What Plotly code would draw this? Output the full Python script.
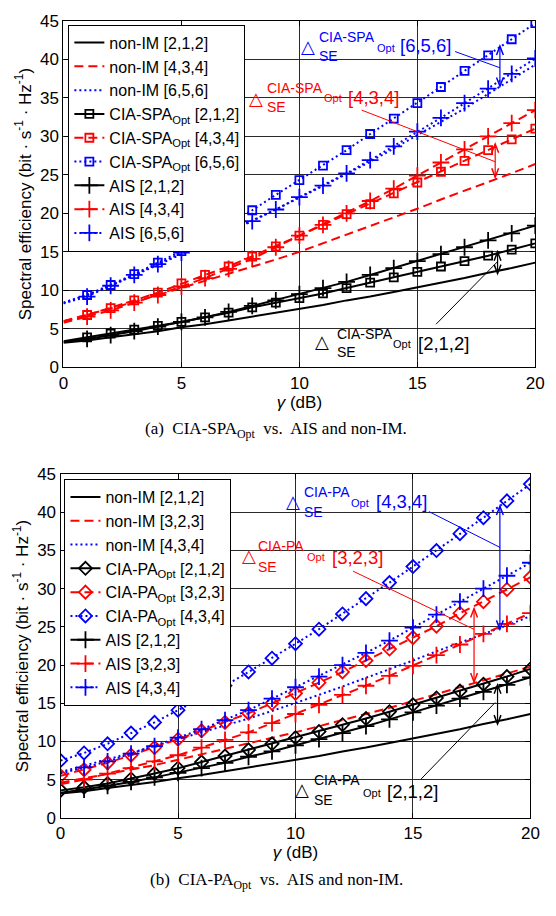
import plotly.graph_objects as go

# ---------------- data ----------------
gamma = list(range(21))
xticks = [0, 5, 10, 15, 20]
yticks = [0, 5, 10, 15, 20, 25, 30, 35, 40, 45]

# (a) CIA-SPA_Opt vs AIS and non-IM
a_nonim_212 = [3.2, 3.5, 3.9, 4.3, 4.7, 5.2, 5.6, 6.1, 6.6, 7.1, 7.6, 8.1, 8.7, 9.2, 9.8, 10.4, 11.0, 11.6, 12.3, 12.9, 13.6]
a_nonim_434 = [6.0, 6.8, 7.6, 8.5, 9.4, 10.3, 11.2, 12.1, 13.0, 14.0, 15.0, 16.1, 17.2, 18.3, 19.5, 20.6, 21.8, 22.9, 24.1, 25.2, 26.4]
a_nonim_656 = [8.4, 9.4, 10.6, 11.9, 13.3, 14.7, 16.1, 17.6, 19.0, 20.5, 22.0, 23.5, 25.1, 26.7, 28.4, 30.1, 31.8, 33.6, 35.5, 37.4, 39.3]
a_cia_212 = [3.4, 3.9, 4.4, 4.9, 5.4, 5.9, 6.5, 7.1, 7.8, 8.4, 9.0, 9.6, 10.3, 11.0, 11.7, 12.4, 13.1, 13.8, 14.5, 15.3, 16.1]
a_cia_434 = [6.0, 6.8, 7.7, 8.7, 9.7, 10.9, 12.0, 13.1, 14.4, 15.7, 17.1, 18.5, 19.9, 21.2, 22.6, 24.0, 25.4, 26.8, 28.2, 29.6, 31.0]
a_cia_656 = [8.4, 9.4, 10.7, 12.1, 13.6, 15.1, 16.8, 18.6, 20.4, 22.4, 24.3, 26.2, 28.2, 30.3, 32.3, 34.3, 36.4, 38.5, 40.5, 42.6, 44.7]
a_ais_212 = [3.3, 3.7, 4.2, 4.7, 5.3, 5.9, 6.5, 7.2, 8.0, 8.7, 9.5, 10.3, 11.1, 12.0, 12.9, 13.8, 14.7, 15.6, 16.5, 17.4, 18.4]
a_ais_434 = [5.8, 6.6, 7.4, 8.4, 9.4, 10.5, 11.6, 12.8, 14.1, 15.6, 17.1, 18.5, 20.0, 21.6, 23.2, 24.9, 26.6, 28.3, 30.0, 31.7, 33.4]
a_ais_656 = [8.3, 9.2, 10.6, 12.0, 13.4, 14.9, 16.3, 17.6, 19.0, 20.5, 22.1, 23.6, 25.2, 26.9, 28.7, 30.6, 32.4, 34.3, 36.2, 38.1, 40.1]

# (b) CIA-PA_Opt vs AIS and non-IM
b_nonim_212 = [3.2, 3.5, 3.9, 4.3, 4.7, 5.2, 5.6, 6.1, 6.6, 7.1, 7.6, 8.1, 8.7, 9.2, 9.8, 10.4, 11.0, 11.6, 12.3, 12.9, 13.6]
b_nonim_323 = [4.6, 5.2, 5.7, 6.3, 6.9, 7.6, 8.3, 9.0, 9.7, 10.4, 11.2, 12.0, 12.8, 13.6, 14.4, 15.3, 16.2, 17.1, 18.0, 18.9, 19.8]
b_nonim_434 = [6.0, 6.8, 7.6, 8.5, 9.4, 10.3, 11.2, 12.1, 13.0, 14.0, 15.0, 16.1, 17.2, 18.3, 19.5, 20.6, 21.8, 22.9, 24.1, 25.2, 26.4]
b_cia_212 = [3.6, 4.0, 4.5, 5.1, 5.8, 6.5, 7.3, 8.1, 8.9, 9.7, 10.5, 11.3, 12.2, 13.0, 13.9, 14.8, 15.7, 16.6, 17.5, 18.5, 19.5]
b_cia_323 = [5.5, 6.3, 7.2, 8.2, 9.2, 10.3, 11.4, 12.5, 13.7, 15.0, 16.3, 17.7, 19.1, 20.6, 22.1, 23.6, 25.1, 26.8, 28.3, 29.9, 31.5]
b_cia_434 = [7.5, 8.5, 9.7, 11.1, 12.5, 14.1, 15.7, 17.3, 19.1, 20.9, 22.8, 24.7, 26.7, 28.7, 30.8, 32.9, 35.0, 37.2, 39.3, 41.5, 43.7]
b_ais_212 = [3.3, 3.7, 4.2, 4.7, 5.3, 5.9, 6.5, 7.2, 8.0, 8.7, 9.5, 10.3, 11.1, 12.0, 12.9, 13.8, 14.7, 15.6, 16.5, 17.4, 18.4]
b_ais_323 = [4.4, 5.0, 5.8, 6.5, 7.4, 8.2, 9.2, 10.2, 11.2, 12.4, 13.6, 14.8, 16.1, 17.3, 18.6, 19.9, 21.3, 22.7, 24.1, 25.4, 26.8]
b_ais_434 = [5.8, 6.6, 7.4, 8.4, 9.4, 10.5, 11.6, 12.8, 14.1, 15.6, 17.1, 18.5, 20.0, 21.6, 23.2, 24.9, 26.6, 28.3, 30.0, 31.7, 33.4]

BLACK, RED, BLUE = "#000000", "#ff0000", "#0000ff"
SANS = "Liberation Sans, Arial, sans-serif"
SERIF = "Liberation Serif, Times New Roman, serif"
DASH = "9px,5px"
DOT = "2px,3px"

W, H = 556, 916
# plot-area pixel boxes (left, right, top, bottom)
BOX_A = (60, 544, 12, 366)
BOX_B = (57, 539, 475, 826)

fig = go.Figure()


def add_series(y, name, color, dash, symbol, xa, ya, legend, start=0, msize=9):
    if symbol is None:
        fig.add_trace(go.Scatter(x=gamma, y=y, name=name, mode="lines",
                                 line=dict(color=color, width=2, dash=dash),
                                 xaxis=xa, yaxis=ya, legend=legend))
        return
    if start > 0:
        fig.add_trace(go.Scatter(x=gamma[:start + 1], y=y[:start + 1], mode="lines",
                                 line=dict(color=color, width=2, dash=dash),
                                 showlegend=False, hoverinfo="skip",
                                 xaxis=xa, yaxis=ya))
    fig.add_trace(go.Scatter(x=gamma[start:], y=y[start:], name=name, mode="lines+markers",
                             line=dict(color=color, width=2, dash=dash),
                             marker=dict(symbol=symbol, size=msize, color=color,
                                         line=dict(color=color, width=1.8)),
                             xaxis=xa, yaxis=ya, legend=legend))


SPA = "CIA-SPA<sub>Opt</sub>"
PA = "CIA-PA<sub>Opt</sub>"

# top subplot
add_series(a_nonim_212, "non-IM [2,1,2]", BLACK, "solid", None, "x", "y", "legend")
add_series(a_nonim_434, "non-IM [4,3,4]", RED, DASH, None, "x", "y", "legend")
add_series(a_nonim_656, "non-IM [6,5,6]", BLUE, DOT, None, "x", "y", "legend")
add_series(a_cia_212, SPA + " [2,1,2]", BLACK, "solid", "square-open", "x", "y", "legend", 1, 8)
add_series(a_cia_434, SPA + " [4,3,4]", RED, DASH, "square-open", "x", "y", "legend", 1, 8)
add_series(a_cia_656, SPA + " [6,5,6]", BLUE, DOT, "square-open", "x", "y", "legend", 1, 8)
add_series(a_ais_212, "AIS [2,1,2]", BLACK, "solid", "cross-thin-open", "x", "y", "legend", 1, 12)
add_series(a_ais_434, "AIS [4,3,4]", RED, DASH, "cross-thin-open", "x", "y", "legend", 1, 12)
add_series(a_ais_656, "AIS [6,5,6]", BLUE, DOT, "cross-thin-open", "x", "y", "legend", 1, 12)

# bottom subplot
add_series(b_nonim_212, "non-IM [2,1,2]", BLACK, "solid", None, "x2", "y2", "legend2")
add_series(b_nonim_323, "non-IM [3,2,3]", RED, DASH, None, "x2", "y2", "legend2")
add_series(b_nonim_434, "non-IM [4,3,4]", BLUE, DOT, None, "x2", "y2", "legend2")
add_series(b_cia_212, PA + " [2,1,2]", BLACK, "solid", "diamond-open", "x2", "y2", "legend2", 0, 10)
add_series(b_cia_323, PA + " [3,2,3]", RED, DASH, "diamond-open", "x2", "y2", "legend2", 0, 10)
add_series(b_cia_434, PA + " [4,3,4]", BLUE, DOT, "diamond-open", "x2", "y2", "legend2", 0, 10)
add_series(b_ais_212, "AIS [2,1,2]", BLACK, "solid", "cross-thin-open", "x2", "y2", "legend2", 1, 12)
add_series(b_ais_323, "AIS [3,2,3]", RED, DASH, "cross-thin-open", "x2", "y2", "legend2", 1, 12)
add_series(b_ais_434, "AIS [4,3,4]", BLUE, DOT, "cross-thin-open", "x2", "y2", "legend2", 1, 12)

annotations = []
shapes = []


def double_arrow(xr, yr, box, color, x, y0, y1):
    # vertical line with arrowheads on both ends (head size given in pixels)
    l, r, t, b = box
    dx = 3.5 * 20 / (r - l)
    dy = 9 * 45 / (b - t)
    shapes.append(dict(type="line", xref=xr, yref=yr, x0=x, x1=x, y0=y0, y1=y1,
                       line=dict(color=color, width=1.2)))
    hi, lo = max(y0, y1), min(y0, y1)
    shapes.append(dict(type="path", xref=xr, yref=yr,
                       path=f"M {x - dx},{hi - dy} L {x},{hi} L {x + dx},{hi - dy}",
                       line=dict(color=color, width=1.5)))
    shapes.append(dict(type="path", xref=xr, yref=yr,
                       path=f"M {x - dx},{lo + dy} L {x},{lo} L {x + dx},{lo + dy}",
                       line=dict(color=color, width=1.5)))


def label_group(xr, yr, box, color, sup, bracket, tri, sup_xy, se_xy, opt_xy, br_xy, line, arrow):
    def ann(text, xy, size, fam=SANS, anchor="left"):
        annotations.append(dict(text=text, x=xy[0], y=xy[1], xref=xr, yref=yr,
                                xanchor=anchor, yanchor="middle", showarrow=False,
                                font=dict(size=size, color=color, family=fam)))
    ann("△", tri, 18, "DejaVu Sans", "center")
    ann(sup, sup_xy, 14)
    ann("SE", se_xy, 14)
    ann("Opt", opt_xy, 11)
    ann(bracket, br_xy, 18.5)
    shapes.append(dict(type="line", xref=xr, yref=yr, x0=line[0], y0=line[1], x1=line[2], y1=line[3],
                       line=dict(color=color, width=1)))
    double_arrow(xr, yr, box, color, arrow[0], arrow[1], arrow[2])


# top annotations
label_group("x", "y", BOX_A, BLUE, "CIA-SPA", "[6,5,6]", (10.37, 41.7), (10.74, 42.9), (10.74, 40.4),
            (13.2, 41.4), (14.17, 41.8), (16.6, 41.0, 18.5, 38.9), (18.5, 41.7, 36.5))
label_group("x", "y", BOX_A, RED, "CIA-SPA", "[4,3,4]", (8.14, 34.9), (8.55, 36.3), (8.55, 33.8),
            (10.95, 35.0), (11.98, 35.1), (12.64, 33.4, 18.3, 26.7), (18.3, 29.0, 24.7))
label_group("x", "y", BOX_A, BLACK, "CIA-SPA", "[2,1,2]", (10.95, 3.4), (11.49, 4.3), (11.49, 2.0),
            (13.88, 3.0), (14.96, 3.05), (15.79, 5.6, 18.39, 13.7), (18.4, 15.0, 12.2))

# bottom annotations
label_group("x2", "y2", BOX_B, BLUE, "CIA-PA", "[4,3,4]", (9.88, 41.4), (10.29, 42.7), (10.29, 40.1),
            (12.28, 41.2), (13.36, 41.4), (15.68, 40.1, 18.71, 35.4), (18.7, 40.8, 24.7))
label_group("x2", "y2", BOX_B, RED, "CIA-PA", "[3,2,3]", (8.0, 34.4), (8.34, 35.6), (8.34, 32.8),
            (10.41, 34.1), (11.45, 34.1), (12.45, 32.3, 17.59, 24.7), (17.6, 27.4, 17.8))
label_group("x2", "y2", BOX_B, BLACK, "CIA-PA", "[2,1,2]", (10.29, 3.7), (10.7, 5.0), (10.7, 2.3),
            (12.78, 3.3), (13.82, 3.5), (15.35, 5.1, 18.5, 15.1), (18.6, 17.4, 12.3))

# captions
annotations.append(dict(text="(a)  CIA-SPA<sub>Opt</sub>  vs.  AIS and non-IM.", x=0.5, y=1 - 430 / H,
                        xref="paper", yref="paper", showarrow=False, xanchor="center", yanchor="middle",
                        font=dict(size=17, family=SERIF, color="#000")))
annotations.append(dict(text="(b)  CIA-PA<sub>Opt</sub>  vs.  AIS and non-IM.", x=0.5, y=1 - 890 / H,
                        xref="paper", yref="paper", showarrow=False, xanchor="center", yanchor="middle",
                        font=dict(size=17, family=SERIF, color="#000")))


def xaxis(box, anchor):
    return dict(domain=[box[0] / W, box[1] / W], anchor=anchor, range=[0, 20], tickvals=xticks,
                showline=True, linecolor="#000", linewidth=1.2, mirror="ticks",
                ticks="inside", ticklen=5, tickcolor="#000",
                showgrid=True, gridcolor="#2a2a2a", gridwidth=1, zeroline=False,
                tickfont=dict(size=17, family=SANS, color="#000"),
                title=dict(text="<i>γ</i> (dB)", font=dict(size=17, family=SANS, color="#000"), standoff=2))


def yaxis(box, anchor):
    return dict(domain=[1 - box[3] / H, 1 - box[2] / H], anchor=anchor, range=[0, 45], tickvals=yticks,
                showline=True, linecolor="#000", linewidth=1.2, mirror="ticks",
                ticks="inside", ticklen=5, tickcolor="#000",
                showgrid=True, gridcolor="#2a2a2a", gridwidth=1, zeroline=False,
                tickfont=dict(size=17, family=SANS, color="#000"),
                title=dict(text="Spectral efficiency (bit · s<sup>-1</sup> · Hz<sup>-1</sup>)",
                           font=dict(size=17, family=SANS, color="#000"), standoff=4))


leg_common = dict(bgcolor="#ffffff", bordercolor="#000", borderwidth=1,
                  font=dict(size=16, family=SANS, color="#000"), itemwidth=30,
                  xanchor="left", yanchor="top", tracegroupgap=0)

fig.update_layout(
    width=W, height=H, margin=dict(l=0, r=0, t=0, b=0),
    paper_bgcolor="#fff", plot_bgcolor="#fff",
    xaxis=xaxis(BOX_A, "y"),
    yaxis=yaxis(BOX_A, "x"),
    xaxis2=xaxis(BOX_B, "y2"),
    yaxis2=yaxis(BOX_B, "x2"),
    legend=dict(x=65 / W, y=1 - 16 / H, **leg_common),
    legend2=dict(x=61 / W, y=1 - 480 / H, **leg_common),
    annotations=annotations, shapes=shapes,
)

fig.write_html("out.html")
